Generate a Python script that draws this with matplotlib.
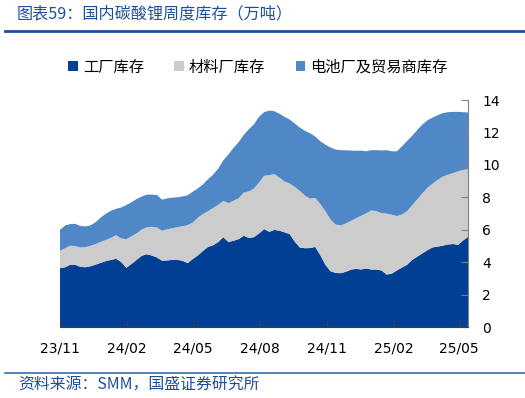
import matplotlib.pyplot as plt
import matplotlib.dates as mdates
from matplotlib.patches import Patch
from matplotlib.lines import Line2D
import numpy as np
import pandas as pd

plt.rcParams['font.family'] = ['Noto Sans CJK SC', 'DejaVu Sans']

# weekly, 2023-11-01 .. 2025-05-14 (unit: 万吨)
dates = pd.date_range("2023-11-01", periods=81, freq="7D")

factory = [3.64, 3.70, 3.85, 3.85, 3.72, 3.70, 3.76, 3.86, 3.97, 4.08,
           4.15, 4.22, 4.02, 3.66, 3.90, 4.15, 4.40, 4.50, 4.42, 4.30,
           4.10, 4.12, 4.15, 4.15, 4.10, 3.95, 4.20, 4.42, 4.70, 4.95,
           5.05, 5.25, 5.55, 5.25, 5.33, 5.43, 5.64, 5.50, 5.55, 5.78,
           6.05, 5.88, 6.00, 5.95, 5.85, 5.74, 5.28, 4.91, 4.87, 4.88,
           4.95, 4.45, 3.85, 3.45, 3.35, 3.33, 3.42, 3.55, 3.60, 3.56,
           3.62, 3.56, 3.56, 3.50, 3.25, 3.30, 3.50, 3.68, 3.85, 4.15,
           4.35, 4.55, 4.75, 4.92, 4.97, 5.03, 5.10, 5.13, 5.08, 5.35,
           5.58]
material = [1.07, 1.17, 1.18, 1.15, 1.20, 1.24, 1.26, 1.27, 1.29, 1.30,
            1.36, 1.46, 1.45, 1.77, 1.70, 1.63, 1.62, 1.66, 1.77, 1.85,
            1.85, 1.92, 1.95, 2.02, 2.12, 2.35, 2.25, 2.33, 2.28, 2.20,
            2.30, 2.30, 2.23, 2.40, 2.47, 2.52, 2.66, 2.87, 3.00, 3.14,
            3.28, 3.49, 3.44, 3.27, 3.13, 3.11, 3.37, 3.49, 3.24, 3.05,
            3.02, 3.15, 3.30, 3.20, 2.98, 2.94, 2.98, 3.01, 3.12, 3.31,
            3.41, 3.64, 3.59, 3.53, 3.75, 3.64, 3.35, 3.27, 3.30, 3.37,
            3.53, 3.70, 3.85, 3.93, 4.11, 4.25, 4.30, 4.37, 4.53, 4.34,
            4.17]
battery = [1.29, 1.40, 1.33, 1.37, 1.32, 1.27, 1.26, 1.35, 1.51, 1.62,
           1.67, 1.62, 1.91, 2.10, 2.10, 2.12, 2.03, 2.01, 1.98, 2.00,
           1.91, 1.90, 1.88, 1.84, 1.84, 1.83, 1.90, 1.80, 1.82, 1.97,
           2.05, 2.22, 2.50, 3.00, 3.25, 3.45, 3.55, 3.83, 3.95, 4.05,
           3.92, 3.98, 3.87, 3.93, 3.98, 3.95, 3.90, 3.90, 3.99, 4.02,
           3.78, 3.86, 4.10, 4.42, 4.62, 4.64, 4.50, 4.33, 4.15, 4.01,
           3.81, 3.71, 3.76, 3.86, 3.91, 3.90, 3.99, 4.20, 4.33, 4.28,
           4.27, 4.24, 4.15, 4.07, 3.98, 3.91, 3.85, 3.77, 3.66, 3.56,
           3.48]

labels = ["工厂库存", "材料厂库存", "电池厂及贸易商库存"]
colors = ["#003F93", "#CCCCCC", "#5087C6"]
blue_text = "#1F4E9A"

fig = plt.figure(figsize=(5.25, 3.98), dpi=100)
ax = fig.add_axes([60 / 525, 1 - 327.3 / 398, 408.3 / 525, 227.3 / 398])

ax.stackplot(dates, factory, material, battery, colors=colors, linewidth=0)

ax.set_ylim(0, 14)
ax.set_yticks(np.arange(0, 15, 2))
ax.set_xlim(dates[0], dates[-1])
ticks = pd.to_datetime(["2023-11-01", "2024-02-01", "2024-05-01", "2024-08-01",
                        "2024-11-01", "2025-02-01", "2025-05-01"])
ax.set_xticks(ticks)
ax.xaxis.set_major_formatter(mdates.DateFormatter("%y/%m"))

ax.yaxis.tick_right()
for s in ["top", "left"]:
    ax.spines[s].set_visible(False)
ax.spines["right"].set_color("#808080")
ax.spines["bottom"].set_color("#404040")
ax.tick_params(axis="y", direction="in", length=5, color="#808080", pad=10,
               labelsize=10)
ax.tick_params(axis="x", direction="in", length=4, color="#404040", pad=10,
               labelsize=10)
for t in ax.get_xticklabels() + ax.get_yticklabels():
    t.set_family("DejaVu Sans")

handles = [Patch(facecolor=c, edgecolor="none") for c in colors]
fig.legend(handles, labels, loc="center", bbox_to_anchor=(258 / 525, 1 - 67 / 398),
           ncol=3, frameon=False, fontsize=11, handlelength=0.6,
           handleheight=0.6, handletextpad=0.35, columnspacing=2.0)

fig.text(17 / 525, 1 - 14 / 398, "图表59：国内碳酸锂周度库存（万吨）",
         color=blue_text, fontsize=11.6, ha="left", va="center")
fig.add_artist(Line2D([5 / 525, 1], [1 - 31 / 398] * 2, color=blue_text, lw=2))
fig.add_artist(Line2D([5 / 525, 1], [1 - 373 / 398] * 2, color="#3A6BB5", lw=1.2))
fig.text(18 / 525, 1 - 385 / 398, "资料来源：SMM，国盛证券研究所",
         color=blue_text, fontsize=11.4, ha="left", va="center")

fig.savefig("out.png", dpi=100)
